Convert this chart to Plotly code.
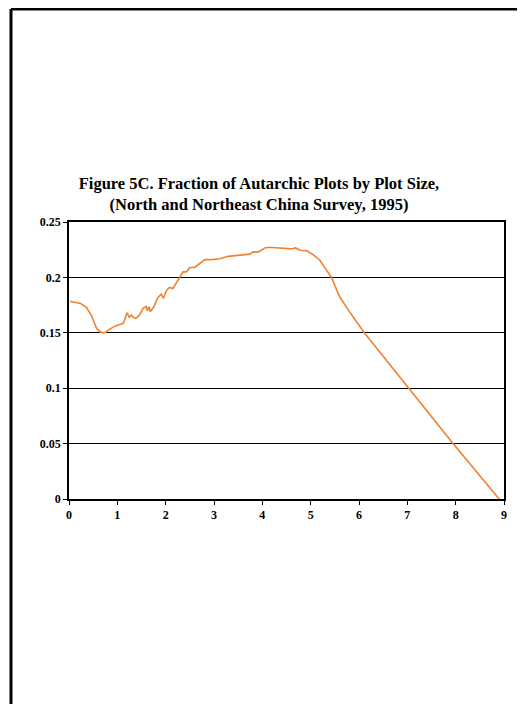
import plotly.graph_objects as go

plot_size = [0.02, 0.10, 0.24, 0.36, 0.46, 0.57, 0.64, 0.70, 0.76, 0.81, 0.95, 1.08, 1.12, 1.15,
             1.20, 1.25, 1.29, 1.33, 1.38, 1.46, 1.53, 1.60, 1.62, 1.66, 1.68, 1.75, 1.84, 1.91,
             1.95, 2.02, 2.08, 2.15, 2.22, 2.29, 2.36, 2.43, 2.50, 2.60, 2.71, 2.81, 2.95, 3.12,
             3.29, 3.53, 3.74, 3.81, 3.92, 4.05, 4.12, 4.22, 4.43, 4.60, 4.69, 4.78, 4.92, 5.05,
             5.19, 5.33, 5.43, 5.60, 5.78, 6.11, 7.02, 7.95, 8.90]
fraction = [0.1785, 0.178, 0.1765, 0.173, 0.166, 0.154, 0.151, 0.150, 0.1505, 0.1525, 0.156, 0.158,
            0.1585, 0.1615, 0.168, 0.164, 0.166, 0.164, 0.163, 0.166, 0.172, 0.174, 0.170, 0.1735,
            0.169, 0.173, 0.182, 0.185, 0.181, 0.1885, 0.191, 0.190, 0.195, 0.200, 0.205, 0.205,
            0.209, 0.209, 0.213, 0.216, 0.216, 0.2168, 0.219, 0.220, 0.221, 0.223, 0.223, 0.2265,
            0.227, 0.227, 0.2266, 0.2257, 0.2266, 0.2245, 0.224, 0.2206, 0.2155, 0.2065, 0.200,
            0.1825, 0.1705, 0.150, 0.100, 0.0498, 0.0]

x_ticks = [0, 1, 2, 3, 4, 5, 6, 7, 8, 9]
y_ticks = [0, 0.05, 0.1, 0.15, 0.2, 0.25]
y_tick_labels = ["0", "0.05", "0.1", "0.15", "0.2", "0.25"]

title_text = ("Figure 5C. Fraction of Autarchic Plots by Plot Size,<br>"
              "(North and Northeast China Survey, 1995)")

FONT = "Liberation Serif, Times New Roman, serif"

fig = go.Figure()
fig.add_trace(go.Scatter(x=plot_size, y=fraction, mode="lines",
                         line=dict(color="#F0812E", width=1.6), showlegend=False,
                         hoverinfo="skip"))

# page has an 8px body margin: figure origin sits at page (8, 8)
OFF = 8
W, H = 525 - OFF, 704 - OFF
L, R, T, B = 69 - OFF, 21, 222 - OFF, 205
pw, ph = W - L - R, H - T - B

def px2paper_x(px):  # px in page coordinates
    return (px - OFF - L) / pw

def py2paper_y(py):
    return (H - B - (py - OFF)) / ph

fig.update_layout(
    width=W, height=H,
    margin=dict(l=L, r=R, t=T, b=B, pad=0),
    paper_bgcolor="white", plot_bgcolor="white",
    font=dict(family=FONT, color="black"),
    title=dict(text="<b>" + title_text + "</b>", x=(259 - OFF) / W, xanchor="center",
               y=1 - (189 - OFF) / H, yanchor="middle",
               font=dict(family=FONT, size=16.5, color="black")),
    xaxis=dict(range=[0, 9], tickvals=x_ticks, ticktext=[f"<b>{v}</b>" for v in x_ticks],
               showgrid=False, zeroline=False, showline=True, linecolor="black", linewidth=1.5,
               mirror=True, ticks="outside", ticklen=4, tickcolor="black", tickwidth=1,
               tickfont=dict(family=FONT, size=12, color="black"), fixedrange=True),
    yaxis=dict(range=[0, 0.25], tickvals=y_ticks, ticktext=[f"<b>{t}</b>" for t in y_tick_labels],
               showgrid=True, gridcolor="black", gridwidth=1, zeroline=False,
               showline=True, linecolor="black", linewidth=1.5, mirror=True,
               ticks="outside", ticklen=4, tickcolor="black", tickwidth=1,
               tickfont=dict(family=FONT, size=12, color="black"), fixedrange=True),
)

# outer frame (left and top edges visible; right/bottom run off the page)
fig.add_shape(type="line", xref="paper", yref="paper",
              x0=px2paper_x(11), x1=px2paper_x(540), y0=py2paper_y(9), y1=py2paper_y(9),
              line=dict(color="black", width=3))
fig.add_shape(type="line", xref="paper", yref="paper",
              x0=px2paper_x(11), x1=px2paper_x(11), y0=py2paper_y(9), y1=py2paper_y(720),
              line=dict(color="black", width=3))

fig.write_html("out.html")
